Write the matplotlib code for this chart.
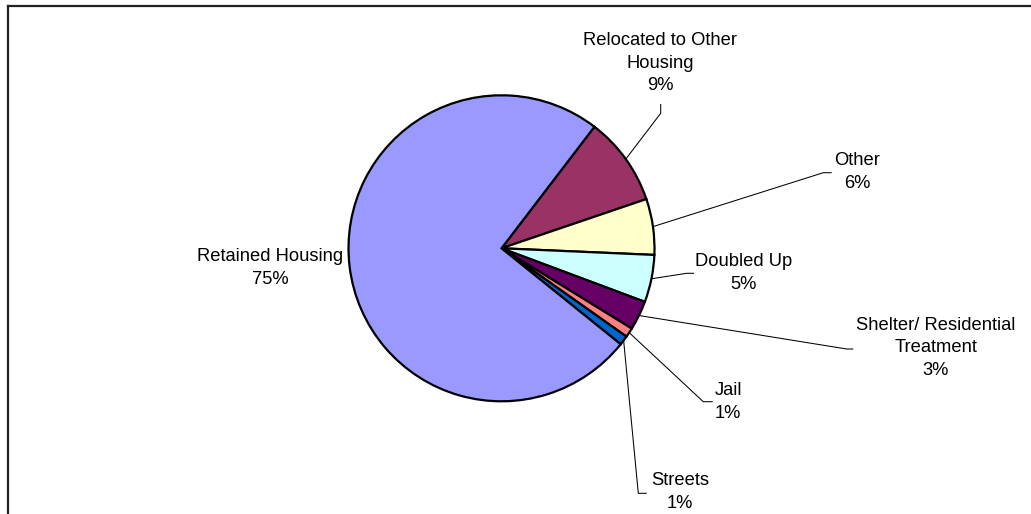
import matplotlib
matplotlib.use("Agg")
import matplotlib.pyplot as plt
import numpy as np
from matplotlib.lines import Line2D

# ---- data ----
categories = ["Relocated to Other\nHousing", "Other", "Doubled Up",
              "Shelter/ Residential\nTreatment", "Jail", "Streets", "Retained Housing"]
values = [9.4, 5.9, 5.0, 3.1, 1.0, 1.0, 74.6]
colors = ["#993366", "#FFFFCC", "#CCFFFF", "#660066", "#FF8080", "#0066CC", "#9999FF"]

W, H = 1031, 514
fig = plt.figure(figsize=(W / 100, H / 100), dpi=100)
ax = fig.add_axes([0, 0, 1, 1])
ax.set_xlim(0, W)
ax.set_ylim(0, H)
ax.set_aspect("equal")
ax.axis("off")

def Y(y):
    return H - y

cx, cy, r = 501.5, Y(248.3), 153
wedges, _ = ax.pie(values, colors=colors, startangle=52.6, counterclock=False,
                   center=(cx, cy), radius=r, frame=True,
                   wedgeprops=dict(edgecolor="black", linewidth=1.6))
ax.set_xlim(0, W)
ax.set_ylim(0, H)
ax.axis("off")

labels = [f"{c}\n{v:.0f}%" for c, v in zip(categories, values)]

# label layout: (text center x, text center y (from top), leader path points after edge)
layout = [
    ((660, 63), [(660.7, 113.3), (660.7, 104)]),
    ((857, 172), [(823.3, 172.7), (831.7, 172.7)]),
    ((744, 273), [(686.7, 273.3), (694, 273.3)]),
    ((936, 348), [(846.7, 349), (853.3, 349)]),
    ((728, 402), [(703.3, 401.7), (712.7, 401.7)]),
    ((680, 492), [(638.3, 493.3), (646.7, 493.3)]),
    ((270, 268), None),
]

font = dict(family=["Liberation Sans", "DejaVu Sans"], size=13.2, color="black")
for w, lab, (tpos, path) in zip(wedges, labels, layout):
    ax.text(tpos[0], Y(tpos[1]), lab, ha="center", va="center",
            multialignment="center", linespacing=1.43, **font)
    if path:
        ang = np.deg2rad((w.theta1 + w.theta2) / 2)
        x0 = cx + r * np.cos(ang)
        y0 = cy + r * np.sin(ang)
        xs = [x0] + [p[0] for p in path]
        ys = [y0] + [Y(p[1]) for p in path]
        ax.plot(xs, ys, color="black", linewidth=0.75, solid_capstyle="butt")

# chart area border (left and top edges visible)
fig.add_artist(Line2D([8 / W, 8 / W], [0, (H - 6) / H], color="#222222", linewidth=1.6,
                      transform=fig.transFigure))
fig.add_artist(Line2D([8 / W, 1], [(H - 6) / H, (H - 6) / H], color="#222222", linewidth=1.6,
                      transform=fig.transFigure))

fig.savefig("out.png", dpi=100)
